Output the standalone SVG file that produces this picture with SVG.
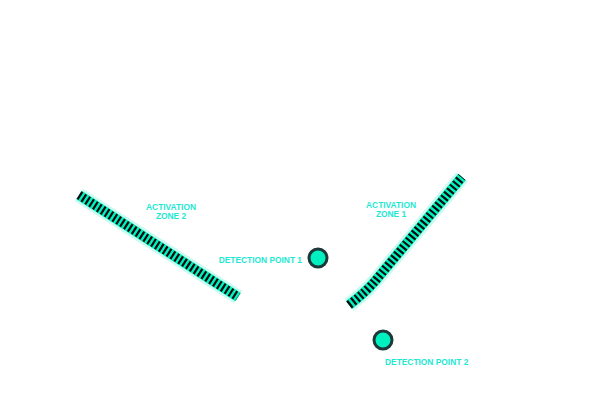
<svg xmlns="http://www.w3.org/2000/svg" width="600" height="420" viewBox="0 0 600 420">
<style>
.halo{fill:none;stroke:#c9fbef;stroke-width:15;stroke-linecap:butt}
.band{fill:none;stroke:#00f0c0;stroke-width:10;stroke-linecap:butt}
.tick{fill:none;stroke:#0a0a0a;stroke-width:9;stroke-dasharray:2.2 2.4;stroke-linecap:butt}
.lbl{font-family:"Liberation Sans",Arial,sans-serif;font-size:8.4px;font-weight:bold;fill:#1de8d2}
.pt{fill:#00f0c0;stroke:#1c3838;stroke-width:3}
</style>
<rect width="600" height="420" fill="#fff"/>
<g id="zone2">
<path class="halo" d="M79,195 L238,297"/>
<path class="band" d="M79,195 L238,297"/>
<path class="tick" d="M79,195 L238,297"/>
<text class="lbl" x="171" y="210" text-anchor="middle">ACTIVATION</text>
<text class="lbl" x="171" y="219" text-anchor="middle">ZONE 2</text>
</g>
<g id="zone1">
<path class="halo" d="M349,305 Q366,292 376,280 L462,177"/>
<path class="band" d="M349,305 Q366,292 376,280 L462,177"/>
<path class="tick" d="M349,305 Q366,292 376,280 L462,177"/>
<text class="lbl" x="391" y="208" text-anchor="middle">ACTIVATION</text>
<text class="lbl" x="391" y="217" text-anchor="middle">ZONE 1</text>
</g>
<g id="point1">
<circle class="pt" cx="318" cy="258" r="9"/>
<text class="lbl" x="302" y="263" text-anchor="end">DETECTION POINT 1</text>
</g>
<g id="point2">
<circle class="pt" cx="383" cy="340" r="9"/>
<text class="lbl" x="385" y="365">DETECTION POINT 2</text>
</g>
<g id="connectors"/>
</svg>
